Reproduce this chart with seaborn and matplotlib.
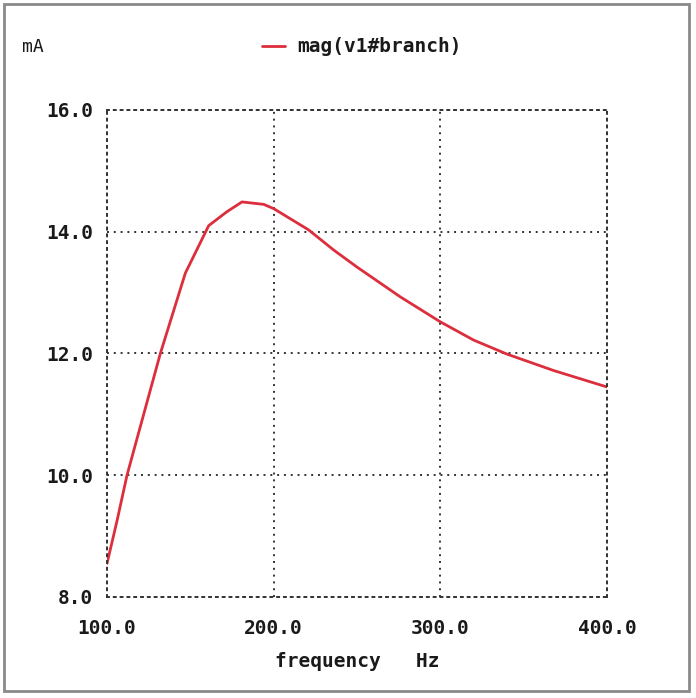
import matplotlib
matplotlib.use("Agg")
import matplotlib.pyplot as plt
import seaborn as sns
from matplotlib.patches import Rectangle

# values
freq = [100, 106, 112, 120, 132, 147, 161, 172, 181, 194, 200, 221, 236, 250, 276, 300, 320, 340, 368, 400]
mag = [8.55, 9.25, 10.0, 10.8, 12.0, 13.32, 14.1, 14.33, 14.49, 14.45, 14.38, 14.03, 13.70, 13.42, 12.93, 12.52, 12.22, 11.99, 11.72, 11.45]
xticks = [100, 200, 300, 400]
yticks = [8, 10, 12, 14, 16]
series_label = "mag(v1#branch)"

sns.set_theme(style="white")
plt.rcParams['font.family'] = ['DejaVu Sans Mono']

W, H = 696, 698
fig = plt.figure(figsize=(W / 100, H / 100), dpi=100)
ax = fig.add_axes([107 / W, 1 - 597 / H, 500 / W, 487 / H])

sns.lineplot(x=freq, y=mag, color='#dc2e3c', linewidth=2, label=series_label, ax=ax)

ax.set_xlim(100, 400)
ax.set_ylim(8, 16)
ax.set_xticks(xticks)
ax.set_yticks(yticks)
ax.set_xticklabels([f"{v:.1f}" for v in xticks])
ax.set_yticklabels([f"{v:.1f}" for v in yticks])
ax.tick_params(length=0, labelsize=14, labelcolor='#1a1a1a')
ax.tick_params(axis='x', pad=16)
ax.tick_params(axis='y', pad=10)
for t in ax.get_xticklabels() + ax.get_yticklabels():
    t.set_fontweight('bold')

dots = (0, (1, 2.5))
ax.grid(True, color='#333333', linestyle=dots, linewidth=1.4)
for s in ax.spines.values():
    s.set_linestyle(dots)
    s.set_color('#333333')
    s.set_linewidth(1.4)

ax.set_xlabel("frequency   Hz", fontsize=14, fontweight='bold', color='#1a1a1a', labelpad=10)
ax.set_ylabel("")

leg = ax.legend(loc='center left', bbox_to_anchor=(262 / W, 1 - 47 / H), bbox_transform=fig.transFigure,
                frameon=False, borderpad=0, borderaxespad=0, handlelength=1.2, handletextpad=0.6,
                fontsize=14, labelcolor='#1a1a1a')
for t in leg.get_texts():
    t.set_fontweight('bold')

fig.text(22 / W, 1 - 47 / H, "mA", fontsize=13, color='#1a1a1a', va='center', ha='left')

fig.patches.append(Rectangle((4 / W, 1 - 691 / H), 685 / W, 687 / H, transform=fig.transFigure,
                             fill=False, edgecolor='#8a8a8a', linewidth=2))

fig.savefig("out.png", dpi=100)
